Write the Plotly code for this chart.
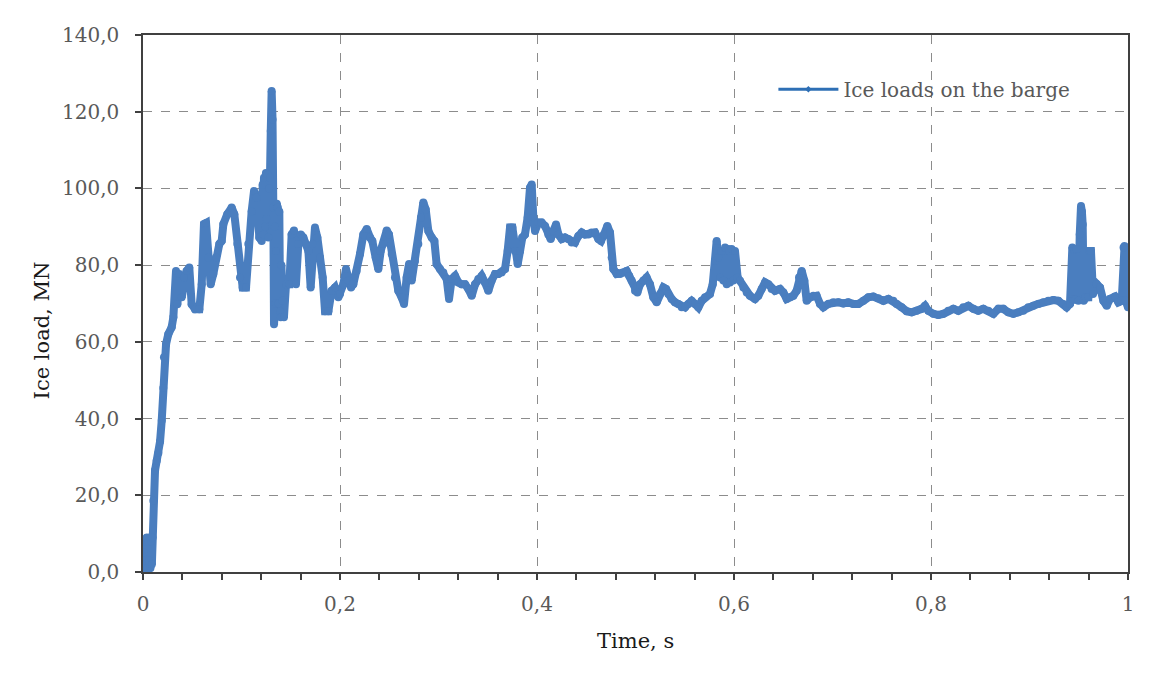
import plotly.graph_objects as go

# Time history of the ice load acting on the barge
time_s = [
    0.0000, 0.0008, 0.0015, 0.0022, 0.0030, 0.0037, 0.0045, 0.0052, 0.0060, 0.0068,
    0.0075, 0.0083, 0.0090, 0.0098, 0.0105, 0.0122, 0.0139, 0.0156, 0.0173, 0.0190,
    0.0206, 0.0213, 0.0234, 0.0257, 0.0291, 0.0308, 0.0335, 0.0349, 0.0369, 0.0393,
    0.0416, 0.0443, 0.0470, 0.0494, 0.0528, 0.0572, 0.0596, 0.0619, 0.0640, 0.0663,
    0.0687, 0.0714, 0.0741, 0.0775, 0.0799, 0.0816, 0.0856, 0.0900, 0.0927, 0.0958,
    0.0985, 0.1012, 0.1046, 0.1069, 0.1103, 0.1127, 0.1154, 0.1181, 0.1205, 0.1215,
    0.1222, 0.1228, 0.1240, 0.1248, 0.1256, 0.1265, 0.1272, 0.1280, 0.1289, 0.1297,
    0.1306, 0.1315, 0.1323, 0.1330, 0.1338, 0.1345, 0.1350, 0.1358, 0.1367, 0.1375,
    0.1384, 0.1392, 0.1398, 0.1405, 0.1418, 0.1431, 0.1452, 0.1486, 0.1509, 0.1533,
    0.1553, 0.1577, 0.1601, 0.1628, 0.1655, 0.1679, 0.1702, 0.1723, 0.1746, 0.1770,
    0.1797, 0.1824, 0.1848, 0.1882, 0.1915, 0.1949, 0.1983,
    0.2000, 0.2034, 0.2061, 0.2085, 0.2112, 0.2135, 0.2169, 0.2203, 0.2237, 0.2271,
    0.2305, 0.2328, 0.2362, 0.2389, 0.2413, 0.2440, 0.2474, 0.2497, 0.2525, 0.2558,
    0.2592, 0.2626, 0.2650, 0.2677, 0.2701, 0.2728, 0.2761, 0.2795, 0.2822, 0.2846,
    0.2870, 0.2897, 0.2931, 0.2958, 0.2981, 0.3015, 0.3049, 0.3083, 0.3107, 0.3134,
    0.3168, 0.3201, 0.3235, 0.3269, 0.3303, 0.3337, 0.3371, 0.3404, 0.3438, 0.3472,
    0.3506, 0.3540, 0.3574, 0.3607, 0.3641, 0.3675, 0.3702, 0.3726, 0.3750, 0.3777,
    0.3804, 0.3828, 0.3851, 0.3878, 0.3905, 0.3929, 0.3946, 0.3963, 0.3980,
    0.4014, 0.4047, 0.4081, 0.4115, 0.4139, 0.4166, 0.4193, 0.4217, 0.4251, 0.4284,
    0.4318, 0.4352, 0.4386, 0.4420, 0.4454, 0.4487, 0.4521, 0.4555, 0.4589, 0.4623,
    0.4650, 0.4680, 0.4714, 0.4741, 0.4758, 0.4775, 0.4809, 0.4843, 0.4876, 0.4910,
    0.4937, 0.4961, 0.4995, 0.5019, 0.5046, 0.5080, 0.5113, 0.5147, 0.5181, 0.5215,
    0.5249, 0.5283, 0.5310, 0.5333, 0.5367, 0.5401, 0.5435, 0.5469, 0.5503, 0.5536,
    0.5570, 0.5604, 0.5638, 0.5672, 0.5706, 0.5756, 0.5784, 0.5807, 0.5824, 0.5841,
    0.5858, 0.5875, 0.5892, 0.5909, 0.5926, 0.5942, 0.5950, 0.5959, 0.5976, 0.5993,
    0.6010, 0.6037, 0.6061, 0.6095, 0.6129, 0.6162, 0.6213, 0.6247, 0.6281, 0.6315,
    0.6349, 0.6382, 0.6416, 0.6467, 0.6501, 0.6535, 0.6569, 0.6602, 0.6636, 0.6660,
    0.6687, 0.6714, 0.6738, 0.6772, 0.6805, 0.6839, 0.6873, 0.6907, 0.6958, 0.7008,
    0.7059, 0.7110, 0.7160, 0.7211, 0.7262, 0.7313, 0.7364, 0.7414, 0.7465, 0.7516,
    0.7567, 0.7617, 0.7651, 0.7702, 0.7753, 0.7804, 0.7854, 0.7905, 0.7939, 0.7973,
    0.8024, 0.8074, 0.8125, 0.8176, 0.8227, 0.8277, 0.8328, 0.8379, 0.8430, 0.8480,
    0.8531, 0.8582, 0.8633, 0.8684, 0.8734, 0.8785, 0.8836, 0.8887, 0.8937, 0.8988,
    0.9039, 0.9090, 0.9140, 0.9191, 0.9242, 0.9293, 0.9344, 0.9377, 0.9411, 0.9435,
    0.9445, 0.9455, 0.9465, 0.9479, 0.9496, 0.9510, 0.9523, 0.9532, 0.9540, 0.9550,
    0.9570, 0.9597, 0.9612, 0.9624, 0.9645, 0.9682, 0.9716, 0.9750, 0.9784, 0.9817,
    0.9868, 0.9902, 0.9936, 0.9955, 0.9965, 0.9977, 1.0000,
]

ice_load_mn = [
    0.5, 5.0, 1.0, 8.0, 2.0, 9.0, 1.0, 8.0, 3.0, 9.0,
    1.0, 8.0, 2.0, 9.0, 18.6, 26.5, 29.0, 31.0, 34.0, 39.5,
    48.0, 56.0, 59.4, 62.0, 63.8, 66.4, 78.5, 69.8, 77.7, 71.6,
    76.8, 78.5, 79.4, 69.8, 68.5, 68.5, 75.0, 90.7, 91.0, 82.0,
    75.0, 77.7, 82.0, 85.5, 86.3, 90.7, 93.3, 95.0, 93.3, 85.5,
    76.8, 74.2, 74.2, 85.5, 94.0, 99.3, 97.6, 87.2, 86.3, 101.0,
    88.0, 102.8, 90.0, 104.0, 92.0, 103.7, 87.2, 100.0, 102.8, 115.0,
    125.4, 118.0, 95.0, 64.6, 90.0, 70.0, 83.7, 96.0, 95.0, 70.0,
    94.0, 68.0, 66.4, 80.0, 70.7, 66.4, 75.0, 75.0, 88.0, 89.0,
    75.0, 85.5, 88.0, 87.2, 85.5, 83.7, 74.2, 85.5, 89.8, 87.2,
    82.0, 76.8, 68.0, 68.0, 73.3, 74.2, 71.6,
    72.5, 75.0, 79.0, 76.0, 74.2, 75.0, 78.5, 82.9, 88.0, 89.4,
    87.2, 86.3, 82.0, 79.0, 83.7, 85.5, 89.0, 88.0, 82.9, 76.8,
    73.3, 71.6, 69.9, 76.8, 80.3, 76.0, 81.1, 85.5, 92.4, 96.3,
    94.5, 88.9, 87.2, 86.3, 80.3, 79.0, 78.1, 76.4, 71.2, 76.4,
    77.2, 75.5, 75.0, 75.0, 73.8, 72.0, 75.0, 76.4, 77.2, 75.5,
    73.3, 76.0, 77.7, 77.7, 78.1, 79.0, 83.7, 89.8, 89.8, 83.7,
    80.3, 83.7, 87.2, 88.0, 92.4, 100.2, 101.0, 92.4, 88.9,
    91.1, 91.1, 90.2, 88.0, 86.8, 88.9, 90.6, 88.0, 86.8, 87.2,
    86.8, 85.9, 85.9, 87.6, 88.5, 88.0, 88.0, 88.5, 88.5, 86.8,
    86.3, 88.0, 90.2, 88.5, 82.0, 79.0, 77.7, 77.7, 78.1, 78.5,
    77.2, 76.0, 73.3, 72.9, 75.0, 76.0, 76.8, 75.0, 71.6, 70.3,
    72.5, 74.2, 73.8, 72.5, 71.2, 70.3, 69.9, 69.0, 69.0, 69.9,
    70.7, 69.9, 69.0, 70.7, 71.6, 72.5, 75.0, 81.1, 86.3, 82.0,
    76.8, 83.7, 76.0, 84.6, 75.0, 84.2, 83.7, 75.5, 84.2, 76.0,
    83.7, 76.8, 75.9, 74.2, 72.9, 72.0, 71.2, 72.0, 73.8, 75.5,
    75.0, 73.8, 73.3, 73.8, 72.9, 71.2, 71.6, 72.0, 73.3, 76.8,
    78.5, 75.9, 70.7, 71.6, 72.0, 72.0, 69.9, 69.0, 69.9, 70.3,
    70.3, 70.0, 70.3, 69.9, 69.9, 70.7, 71.6, 71.8, 71.4, 70.7,
    71.2, 70.7, 69.9, 69.0, 68.0, 67.7, 68.1, 68.6, 69.4, 68.1,
    67.3, 67.0, 67.3, 68.1, 68.6, 68.1, 69.0, 69.4, 68.6, 68.1,
    68.6, 68.1, 67.3, 68.6, 68.6, 67.7, 67.3, 67.7, 68.1, 69.0,
    69.4, 69.9, 70.3, 70.7, 70.9, 70.7, 69.9, 69.0, 69.9, 84.6,
    71.0, 84.0, 71.0, 84.2, 70.7, 88.0, 95.4, 94.0, 90.6, 70.7,
    71.6, 71.6, 83.7, 83.7, 72.5, 75.1, 74.2, 70.7, 69.4, 71.2,
    71.8, 70.3, 70.7, 84.6, 85.0, 70.7, 69.0,
]

x_tick_values = [0, 0.2, 0.4, 0.6, 0.8, 1.0]
x_tick_labels = ["0", "0,2", "0,4", "0,6", "0,8", "1"]
y_tick_values = [0, 20, 40, 60, 80, 100, 120, 140]
y_tick_labels = ["0,0", "20,0", "40,0", "60,0", "80,0", "100,0", "120,0", "140,0"]

series_name = "Ice loads on the barge"
x_title = "Time, s"
y_title = "Ice load, MN"

FONT = "DejaVu Serif"
AXIS_GREY = "#595959"
FRAME = "#404040"
GRID = "#8c8c8c"
LINE_BLUE = "#4a7ebf"

fig = go.Figure()

# thick measured curve
fig.add_trace(go.Scatter(
    x=time_s, y=ice_load_mn, mode="lines+markers",
    line=dict(color=LINE_BLUE, width=8),
    marker=dict(color=LINE_BLUE, size=8),
    showlegend=False, hoverinfo="x+y",
))

# legend entry drawn in the thin style with a small marker
fig.add_trace(go.Scatter(
    x=[None], y=[None], mode="lines+markers", name=series_name,
    line=dict(color="#2e6fb5", width=3),
    marker=dict(color="#2e6fb5", size=5, symbol="diamond"),
    showlegend=True,
))

axis_common = dict(
    showline=True, linecolor=FRAME, linewidth=1.5, mirror=True,
    ticks="outside", ticklen=6, tickwidth=1.5, tickcolor=FRAME,
    showgrid=True, gridcolor=GRID, gridwidth=1, griddash="dash",
    zeroline=False,
    tickfont=dict(family=FONT, size=20, color=AXIS_GREY),
)

fig.update_xaxes(
    range=[0, 1], tickmode="array", tickvals=x_tick_values, ticktext=x_tick_labels,
    ticklabelstandoff=7,
    minor=dict(tickmode="linear", tick0=0, dtick=0.04, ticks="outside",
               ticklen=6, tickwidth=1.5, tickcolor=FRAME, showgrid=False),
    **axis_common,
)
fig.update_yaxes(
    range=[0, 140], tickmode="array", tickvals=y_tick_values, ticktext=y_tick_labels,
    ticklabelstandoff=12,
    **axis_common,
)

# white panel behind the legend, above gridlines but below the data
fig.add_shape(type="rect", xref="paper", yref="paper",
              x0=0.594, x1=0.984, y0=0.838, y1=1.0,
              fillcolor="white", line=dict(width=0), layer="between")

fig.add_annotation(text=x_title, xref="paper", yref="paper", x=0.5, y=-0.1285,
                   xanchor="center", yanchor="middle", showarrow=False,
                   font=dict(family=FONT, size=21, color="#1a1a1a"))
fig.add_annotation(text=y_title, xref="paper", yref="paper", x=-0.1025, y=0.45,
                   xanchor="center", yanchor="middle", showarrow=False, textangle=-90,
                   font=dict(family=FONT, size=21, color="#1a1a1a"))

fig.update_layout(
    width=1158, height=689,
    margin=dict(l=143, r=30, t=35, b=117),
    paper_bgcolor="white", plot_bgcolor="white",
    legend=dict(x=0.64, y=0.899, xanchor="left", yanchor="middle",
                bgcolor="rgba(0,0,0,0)", itemwidth=60,
                font=dict(family=FONT, size=20, color=AXIS_GREY)),
)

fig.write_html("out.html")
